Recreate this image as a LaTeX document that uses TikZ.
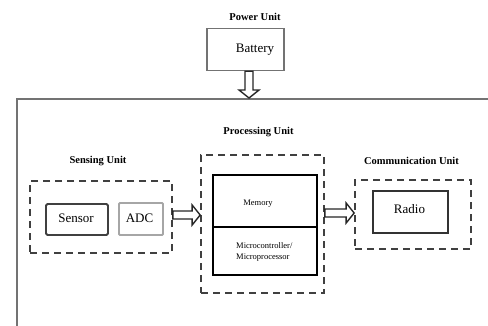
\documentclass[tikz,border=0pt]{standalone}
\usepackage{fontspec}
\setmainfont{Liberation Serif}
\usetikzlibrary{calc}
\tikzset{
  box/.style={draw, rectangle, inner sep=0pt},
  dashbox/.style={draw=black!75, line width=1.7pt, dash pattern=on 7pt off 5pt, rectangle, inner sep=0pt},
  lbl/.style={inner sep=0pt, font=\fontsize{10.5}{12}\selectfont\bfseries},
  txt/.style={inner sep=0pt, font=\fontsize{13}{15}\selectfont},
  small/.style={inner sep=0pt, font=\fontsize{8.5}{11}\selectfont, align=left},
  blockarrow/.style={draw=black!85, line width=1.4pt, fill=white, line join=miter},
  frame/.style={draw=black!55, line width=2.2pt}
}
\newcommand\blockarr[2]{%
  \coordinate (hh) at ($(#2)!8pt!(#1)$);
  \draw[blockarrow] ($(#1)!4pt!90:(#2)$) -- ($(hh)!4pt!90:(#2)$) -- ($(hh)!10pt!90:(#2)$) -- (#2)
    -- ($(hh)!10pt!-90:(#2)$) -- ($(hh)!4pt!-90:(#2)$) -- ($(#1)!4pt!-90:(#2)$) -- cycle;}
\begin{document}
\begin{tikzpicture}[x=1pt,y=-1pt]
\useasboundingbox (0,0) rectangle (488,325);
% outer frame
\coordinate (fl) at (17,326);
\coordinate (ftl) at (17,99);
\coordinate (ftr) at (490,99);
\draw[frame] (fl) -- (ftl) -- (ftr);
% power unit
\node[lbl] (powerlbl) at (255,17) {Power Unit};
\node[box, draw=black!55, line width=1.5pt, minimum width=77pt, minimum height=42pt] (battery) at (245.5,49.5) {};
\node[txt] (batterytxt) at (255,50) {Battery};
% sensing unit
\node[lbl] (senselbl) at (98,161) {Sensing Unit};
\node[dashbox, minimum width=142pt, minimum height=72pt] (sensebox) at (101,217) {};
\node[box, draw=black!75, line width=1.8pt, rounded corners=1.5pt, minimum width=62pt, minimum height=31pt] (sensor) at (77,219.5) {};
\node[txt] (sensortxt) at (76,218) {Sensor};
\node[box, draw=black!35, line width=1.8pt, rounded corners=1pt, minimum width=44pt, minimum height=32pt] (adc) at (141,219) {};
\node[txt] (adctxt) at (139.5,218) {ADC};
% processing unit
\node[lbl] (proclbl) at (258.5,132) {Processing Unit};
\node[dashbox, minimum width=123pt, minimum height=138pt] (procbox) at (262.5,224) {};
\node[box, line width=1.2pt, minimum width=104pt, minimum height=52pt] (mem) at (265,201) {};
\node[box, line width=1.2pt, minimum width=104pt, minimum height=48pt] (mcu) at (265,251) {};
\node[small] (memtxt) at (258,204) {Memory};
\node[small, anchor=west] (mcutxt) at (236,251.5) {Microcontroller/\\Microprocessor};
% communication unit
\node[lbl] (commlbl) at (411.5,161) {Communication Unit};
\node[dashbox, minimum width=116pt, minimum height=69pt] (commbox) at (413,214.5) {};
\node[box, draw=black!80, line width=1.5pt, minimum width=75pt, minimum height=42pt] (radio) at (410.5,212) {};
\node[txt] (radiotxt) at (409.5,209) {Radio};
% arrows
\coordinate (a1s) at (battery.south -| 249,0);
\coordinate (a1e) at (249,98);
\blockarr{a1s}{a1e}
\coordinate (a2s) at (sensebox.east |- 0,215);
\coordinate (a2e) at (procbox.west |- 0,215);
\blockarr{a2s}{a2e}
\coordinate (a3s) at (procbox.east |- 0,213);
\coordinate (a3e) at (commbox.west |- 0,213);
\blockarr{a3s}{a3e}
\end{tikzpicture}
\end{document}
